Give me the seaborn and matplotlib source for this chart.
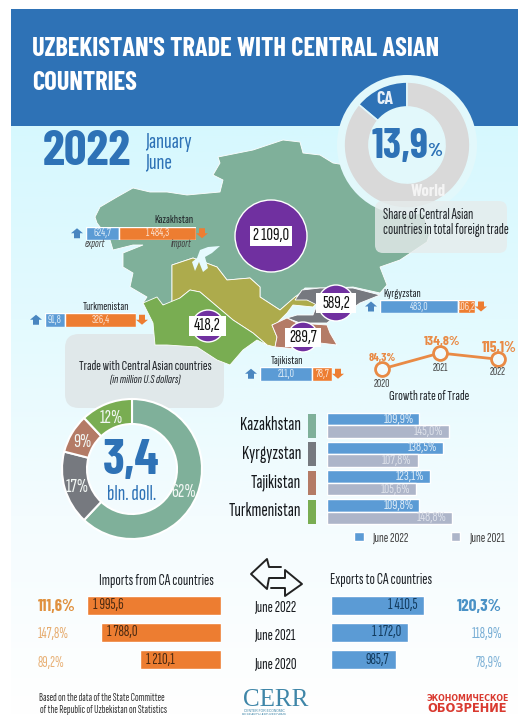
import numpy as np
import pandas as pd
import seaborn as sns
import matplotlib.pyplot as plt
from matplotlib.colors import LinearSegmentedColormap
from matplotlib.patches import Circle, FancyBboxPatch, Polygon, Rectangle

W, H = 518, 715

# data
share_labels = ['CA', 'World']
share_values = [13.9, 86.1]

map_countries = ['Kazakhstan', 'Turkmenistan', 'Kyrgyzstan', 'Tajikistan']
map_exports = [624.7, 91.8, 483.0, 211.0]
map_imports = [1484.3, 326.4, 106.2, 78.7]
map_totals = ['2 109,0', '418,2', '589,2', '289,7']

rate_years = ['2020', '2021', '2022']
rate_values = [84.3, 134.8, 115.1]

donut_values = [62, 17, 9, 12]
growth_countries = ['Kazakhstan', 'Kyrgyzstan', 'Tajikistan', 'Turkmenistan']
growth_2022 = [109.9, 138.5, 123.1, 109.8]
growth_2021 = [145.0, 107.8, 105.6, 148.8]

period_labels = ['June 2022', 'June 2021', 'June 2020']
import_values = [1995.6, 1788.0, 1210.1]
export_values = [1410.5, 1172.0, 985.7]
import_growth = [111.6, 147.8, 89.2]
export_growth = [120.3, 118.9, 78.9]

BLUE = '#2E72B6'
BAR_BLUE = '#5B9BD5'
ORANGE = '#ED7D31'
GREY_BAR = '#ADB5C9'
PURPLE = '#7030A0'
C_KAZ = '#7FB09A'
C_KYR = '#76797F'
C_TAJ = '#B47B66'
C_TUR = '#79AD52'
C_UZB = '#ADAB4C'
TXT = '#1F2328'
BIG = ['Barlow Condensed', 'Roboto', 'DejaVu Sans']

sns.set_theme(style='white')
plt.rcParams['font.family'] = ['Sofia Sans Extra Condensed', 'Barlow Condensed', 'Roboto', 'DejaVu Sans']


def ax_px(x0, y0, x1, y1, z=1):
    a = fig.add_axes([x0 / W, 1 - y1 / H, (x1 - x0) / W, (y1 - y0) / H], zorder=z)
    a.patch.set_alpha(0)
    a.set_axis_off()
    return a


def num(v):
    return f'{v:,.1f}'.replace(',', ' ').replace('.', ',')


def pct(v):
    return f'{v:.1f}%'.replace('.', ',')


fig = plt.figure(figsize=(W / 100, H / 100), dpi=100, facecolor='white')

# background layer in pixel coords
bg = ax_px(0, 0, W, H, z=0)
cmap = LinearSegmentedColormap.from_list('bgfade', ['#D6F8FE', '#E3FAFE', '#F4FCFE', '#FFFFFF'])
grad = np.linspace(0, 1, 256).reshape(-1, 1)
bg.imshow(grad, cmap=cmap, extent=(11, W, 715, 120), aspect='auto', zorder=0)
bg.set_xlim(0, W)
bg.set_ylim(H, 0)
bg.add_patch(Rectangle((11, 9), W - 11, 117, color=BLUE, lw=0, zorder=1))

# grey box behind the map
bg.add_patch(FancyBboxPatch((65, 334), 159, 74, boxstyle='round,pad=0,rounding_size=14',
                            fc='#E0E8EA', ec='none', zorder=1.5))

# map shapes
kaz = [(95, 217), (100, 207), (117, 197), (133, 188), (150, 192), (167, 192), (187, 195), (220, 192),
       (223, 180), (213, 175), (220, 163), (218, 157), (253, 150), (283, 140), (300, 142), (303, 153),
       (320, 155), (333, 163), (345, 165), (370, 178), (395, 190), (420, 205), (430, 233), (427, 242),
       (400, 260), (380, 267), (387, 285), (380, 293), (353, 287), (333, 288), (305, 288), (300, 293),
       (280, 310), (260, 297), (260, 287), (250, 278), (227, 280), (217, 267), (193, 258), (172, 265),
       (172, 305), (143, 303), (147, 297), (130, 287), (133, 273), (123, 267), (123, 253), (143, 245),
       (133, 245), (113, 250), (110, 240), (97, 223)]
uzb = [(172, 265), (193, 258), (217, 267), (227, 280), (250, 278), (260, 287), (260, 297), (280, 310),
       (296, 296), (317, 303), (313, 307), (293, 305), (287, 313), (277, 323), (272, 325), (277, 337),
       (275, 347), (267, 345), (253, 333), (233, 320), (213, 303), (200, 292), (190, 290), (180, 298),
       (172, 305)]
tur = [(143, 303), (157, 297), (163, 305), (180, 298), (190, 290), (200, 292), (213, 303), (233, 320),
       (253, 333), (267, 345), (257, 340), (243, 350), (230, 365), (217, 360), (197, 347), (167, 345),
       (155, 345), (153, 323)]
kyr = [(295, 300), (302, 290), (320, 288), (353, 288), (380, 295), (360, 303), (353, 308), (333, 318),
       (327, 323), (300, 323), (287, 318), (297, 315), (313, 315), (317, 305), (307, 300)]
taj = [(272, 325), (287, 318), (297, 323), (327, 325), (330, 333), (337, 345), (320, 343), (310, 350),
       (275, 347), (277, 337)]
for pts, col in [(kaz, C_KAZ), (uzb, C_UZB), (tur, C_TUR), (kyr, C_KYR), (taj, C_TAJ)]:
    bg.add_patch(Polygon(pts, closed=True, fc=col, ec='white', lw=0.6, zorder=2))
# Aral sea
bg.add_patch(Polygon([(192, 262), (197, 258), (200, 250), (208, 247), (220, 246), (212, 253), (205, 257),
                      (208, 268), (203, 272), (199, 262), (195, 271)], closed=True, fc='#E6FAFE', ec='none', zorder=2.5))

# layer over the map, pixel coords too
top = ax_px(0, 0, W, H, z=5)
top.set_xlim(0, W)
top.set_ylim(H, 0)

top.text(32, 49, "UZBEKISTAN'S TRADE WITH CENTRAL ASIAN", color='white', fontsize=19, fontweight='bold', va='center', family=BIG)
top.text(32, 83, 'COUNTRIES', color='white', fontsize=19, fontweight='bold', va='center', family=BIG)
top.text(43, 152, '2022', color=BLUE, fontsize=36, fontweight='bold', va='center', family=BIG)
top.text(145, 143, 'January', color=BLUE, fontsize=16.5, va='center')
top.text(145, 163, 'June', color=BLUE, fontsize=16.5, va='center')

# share donut
sd = ax_px(337, 75, 477, 215, z=3)
sd.add_patch(Circle((0, 0), 70, fc='#E2F8FB', ec='none'))
sd.pie(share_values, radius=63, startangle=90, counterclock=True, colors=[BLUE, '#D9D9D9'],
       wedgeprops={'width': 25, 'edgecolor': '#E2F8FB', 'linewidth': 1.2})
sd.set_xlim(-70, 70)
sd.set_ylim(-70, 70)
sd.set_aspect('equal')
top.text(385, 99, share_labels[0], color='#E8F0F8', fontsize=13, fontweight='bold', ha='center', va='center', family=BIG)
top.text(428, 191, share_labels[1], color='#F4F4F4', fontsize=12, fontweight='bold', ha='center', va='center', family=BIG)
top.text(400, 147, '13,9', color=BLUE, fontsize=30, fontweight='bold', ha='center', va='center', family=BIG)
top.text(435, 152, '%', color=BLUE, fontsize=14, fontweight='bold', ha='center', va='center', family=BIG)

# share box, see-through over the map
top.add_patch(FancyBboxPatch((375, 201), 132, 52, boxstyle='round,pad=0,rounding_size=8',
                             fc='#E6ECEC', ec='none', alpha=0.8, zorder=0.5))
top.text(383, 215, 'Share of Central Asian', color=TXT, fontsize=10.8, va='center')
top.text(383, 230, 'countries in total foreign trade', color=TXT, fontsize=10.8, va='center')

# circles with totals
circles = [(271, 236, 36), (208, 326, 16), (336, 303, 18), (303, 337, 15)]
boxes = [(250, 226, 42, 20), (189, 316, 37, 20), (316, 293, 40, 20), (285, 328, 36, 19)]
for (cx, cy, r), (bx, by, bw, bh), lab in zip(circles, boxes, map_totals):
    top.add_patch(Circle((cx, cy), r, fc=PURPLE, ec='white', lw=1, zorder=1))
    top.add_patch(Rectangle((bx, by), bw, bh, fc='white', ec='none', zorder=1.2))
    top.text(bx + bw / 2, by + bh / 2, lab, color='#111111', fontsize=13.1, ha='center', va='center', zorder=1.4)

# export / import mini bars, each one on its own scale
mini_boxes = [(86, 226.5, 196, 240), (45, 313, 136, 326.5), (380, 300, 475, 313), (260, 367, 332, 380.5)]
name_pos = [(174, 220), (106, 307), (402, 294), (287, 361)]
for c, e, i, (x0, y0, x1, y1), (nx, ny) in zip(map_countries, map_exports, map_imports, mini_boxes, name_pos):
    a = ax_px(x0, y0, x1, y1, z=4)
    sns.barplot(x=[e], y=[0], orient='h', color=BAR_BLUE, saturation=1, width=1, ax=a)
    sns.barplot(x=[i], y=[0], orient='h', color=ORANGE, saturation=1, width=1, left=[e], ax=a)
    a.set_xlim(0, e + i)
    a.set_axis_off()
    a.text(e / 2, 0, num(e), color='#DCEBF7', fontsize=8.6, ha='center', va='center')
    a.text(e + i / 2, 0, num(i), color='#FBE3D2', fontsize=8.6, ha='center', va='center')
    top.text(nx, ny, c, color=TXT, fontsize=8.9, ha='center', va='center')
    ym = (y0 + y1) / 2
    top.add_patch(Polygon([(x0 - 9, ym - 5), (x0 - 3, ym), (x0 - 6, ym), (x0 - 6, ym + 5), (x0 - 12, ym + 5),
                           (x0 - 12, ym), (x0 - 15, ym)], closed=True, fc=BLUE, ec='none', alpha=0.85))
    top.add_patch(Polygon([(x1 + 6, ym + 5), (x1 + 12, ym), (x1 + 9, ym), (x1 + 9, ym - 5), (x1 + 3, ym - 5),
                           (x1 + 3, ym), (x1, ym)], closed=True, fc=ORANGE, ec='none'))
top.text(95, 244, 'export', color='#444444', fontsize=8.3, style='italic', ha='center', va='center')
top.text(181, 244, 'import', color='#444444', fontsize=8.3, style='italic', ha='center', va='center')

# trade box text
top.text(145, 366, 'Trade with Central Asian countries', color=TXT, fontsize=10.2, ha='center', va='center')
top.text(145, 380, '(in million U.S dollars)', color=TXT, fontsize=8.9, style='italic', ha='center', va='center')

# growth rate line
rate = ax_px(370.4, 348.2, 509.6, 373.5, z=4)
rate_df = pd.DataFrame({'pos': range(len(rate_years)), 'value': rate_values})
sns.lineplot(data=rate_df, x='pos', y='value', color='#E98A45', lw=2, marker='o', markersize=10,
             markerfacecolor='#EFFBFE', markeredgecolor='#E98A45', markeredgewidth=2, clip_on=False, ax=rate)
rate.set_xlim(-0.2, 2.2)
rate.set_ylim(70, 150)
rate.set_axis_off()
for (tx, ty), v, fs in zip([(382, 358), (442, 341), (499, 348)], rate_values, [8.4, 10, 11]):
    top.text(tx, ty, pct(v), color='#E98A45', fontsize=fs, fontweight='bold', ha='center', va='center', family=BIG)
for (tx, ty), y in zip([(382, 384), (440, 368), (498, 372)], rate_years):
    top.text(tx, ty, y, color='#444444', fontsize=8.6, ha='center', va='center')
top.text(429, 396, 'Growth rate of Trade', color=TXT, fontsize=10.2, ha='center', va='center')

# main donut
md = ax_px(60, 397, 204, 541, z=3)
md.pie(donut_values, radius=70, startangle=90, counterclock=False, colors=[C_KAZ, C_KYR, C_TAJ, C_TUR],
       wedgeprops={'width': 25, 'edgecolor': 'white', 'linewidth': 1.5})
md.set_xlim(-72, 72)
md.set_ylim(-72, 72)
md.set_aspect('equal')
top.text(131, 461, '3,4', color=BLUE, fontsize=36, fontweight='bold', ha='center', va='center', family=BIG)
top.text(132, 494, 'bln. doll.', color=BLUE, fontsize=15.6, ha='center', va='center')
for (tx, ty), v in zip([(184, 492), (77, 487), (82, 442), (111, 418)], donut_values):
    top.text(tx, ty, f'{v}%', color='#F2F7F4', fontsize=14, ha='center', va='center')

# growth by country
growth_df = pd.DataFrame({
    'country': growth_countries,
    'June 2022': growth_2022,
    'June 2021': growth_2021,
}).melt(id_vars='country', var_name='year', value_name='value')
gb = ax_px(327, 411, 453, 526, z=4)
sns.barplot(data=growth_df, x='value', y='country', hue='year', orient='h', width=0.87, gap=0,
            palette={'June 2022': BAR_BLUE, 'June 2021': GREY_BAR}, saturation=1, ax=gb)
gb.set_xlim(0, 150)
gb.set_axis_off()
h = gb.get_legend_handles_labels()
gb.legend(h[0], h[1], ncol=2, frameon=False, loc='center left', bbox_to_anchor=(0.214, -0.104),
          borderaxespad=0, borderpad=0, fontsize=9.9, handlelength=0.7, handleheight=0.7,
          columnspacing=3.1, handletextpad=0.6, labelcolor='#444444')
for cont, vals, col in zip(gb.containers, [growth_2022, growth_2021], ['#DCEBF7', '#DDE1EA']):
    for p, v in zip(cont.patches, vals):
        gb.annotate(pct(v), (p.get_width(), p.get_y() + p.get_height() / 2), xytext=(-4.2, 0),
                    textcoords='offset points', color=col, fontsize=10.4, ha='right', va='center')

country_y = [425.5, 454, 482.5, 511.5]
for c, y, col in zip(growth_countries, country_y, [C_KAZ, C_KYR, C_TAJ, C_TUR]):
    top.text(301, y, c, color='#15181C', fontsize=13.9, ha='right', va='center')
    top.add_patch(Rectangle((308, y - 12), 8, 24, fc=col, ec='none'))

# imports / exports
imp = ax_px(73.5, 591.7, 220.5, 673.3, z=4)
sns.barplot(x=import_values, y=period_labels, orient='h', color=ORANGE, saturation=1, width=0.72, ax=imp)
imp.set_xlim(2197, 0)
imp.set_axis_off()
for p, v in zip(imp.containers[0].patches, import_values):
    imp.annotate(num(v), (p.get_width(), p.get_y() + p.get_height() / 2), xytext=(4.5, 0),
                 textcoords='offset points', color='#4A2A12', fontsize=11.2, ha='left', va='center')
exp = ax_px(331, 591.7, 429.5, 673.3, z=4)
sns.barplot(x=export_values, y=period_labels, orient='h', color=BAR_BLUE, saturation=1, width=0.72, ax=exp)
exp.set_xlim(0, 1500)
exp.set_axis_off()
for p, v in zip(exp.containers[0].patches, export_values):
    exp.annotate(num(v), (p.get_width(), p.get_y() + p.get_height() / 2), xytext=(-4.5, 0),
                 textcoords='offset points', color='#123B5E', fontsize=11.2, ha='right', va='center')

top.text(156, 581, 'Imports from CA countries', color=TXT, fontsize=11.4, ha='center', va='center')
top.text(381, 580, 'Exports to CA countries', color=TXT, fontsize=11.4, ha='center', va='center')
row_y = [605.5, 633, 662]
for y, lab in zip(row_y, period_labels):
    top.text(275, y + 2, lab, color='#15181C', fontsize=11.3, ha='center', va='center')
for y, v, fs, w, a_, fam in zip(row_y, import_growth, [12, 10.9, 10.9], ['bold', 'normal', 'normal'], [1, .75, .7],
                                [BIG, None, None]):
    top.text(38, y + 1, pct(v), color='#E0913F', fontsize=fs, fontweight=w, alpha=a_, ha='left', va='center', family=fam)
for y, v, fs, w, a_, fam in zip(row_y, export_growth, [12.5, 10.9, 10.9], ['bold', 'normal', 'normal'], [1, .75, .7],
                                [BIG, None, None]):
    top.text(502, y + 1, pct(v), color='#4A92C6', fontsize=fs, fontweight=w, alpha=a_, ha='right', va='center', family=fam)

# swap arrows
top.plot([281, 269, 267, 251, 267, 269, 281], [567, 567, 559, 574, 589, 578, 578], color='#222222', lw=1.4)
top.plot([271, 285, 285, 302, 285, 285, 271], [578, 578, 570, 584, 596, 588, 588], color='#222222', lw=1.4)

# footer
top.text(39, 698, 'Based on the data of the State Committee', color='#333333', fontsize=7.9, va='center')
top.text(40, 710, 'of the Republic of Uzbekistan on Statistics', color='#333333', fontsize=7.9, va='center')
top.text(276, 699.5, 'CERR', color='#3F86A8', fontsize=18, family='Liberation Serif', ha='center', va='center')
top.text(264, 712.5, 'CENTER FOR ECONOMIC\nRESEARCH AND REFORMS', color='#3F86A8', fontsize=2.4, family='Liberation Sans',
         ha='center', va='center', linespacing=1)
top.text(467.5, 698.5, 'ЭКОНОМИЧЕСКОЕ', color='#D9392F', fontsize=5.7, fontweight='bold', family='DejaVu Sans', ha='center', va='center')
top.text(467.5, 709, 'ОБОЗРЕНИЕ', color='#D9392F', fontsize=8.3, fontweight='bold', family='DejaVu Sans', ha='center', va='center')

fig.savefig('out.png', dpi=100)
